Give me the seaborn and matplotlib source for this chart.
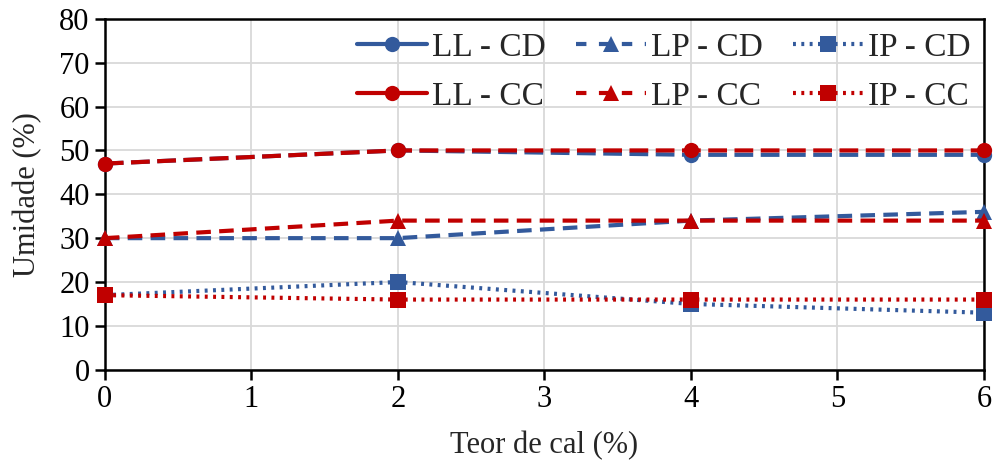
import matplotlib
matplotlib.use("Agg")
import matplotlib.pyplot as plt
import seaborn as sns
import pandas as pd
from matplotlib.lines import Line2D

teor = [0, 2, 4, 6]
ll_cd = [47, 50, 49, 49]
lp_cd = [30, 30, 34, 36]
ip_cd = [17, 20, 15, 13]
ll_cc = [47, 50, 50, 50]
lp_cc = [30, 34, 34, 34]
ip_cc = [17, 16, 16, 16]
labels = ["LL - CD", "LP - CD", "IP - CD", "LL - CC", "LP - CC", "IP - CC"]

sns.set_style("white")
plt.rcParams['font.family'] = ['Liberation Serif', 'DejaVu Serif']

blue = "#335a9c"
red = "#c00000"

fig = plt.figure(figsize=(9.98, 4.71), dpi=100)
ax = fig.add_axes([0.105, 0.215, 0.881, 0.745])

series = [
    (ll_cd, blue, (0, (4.5, 1.8)), "o", 11, 3),
    (lp_cd, blue, (0, (3.5, 2.0)), "^", 11, 3),
    (ip_cd, blue, (0, (0.7, 1.3)), "s", 11, 3),
    (ll_cc, red, (0, (4.5, 1.8)), "o", 11, 3),
    (lp_cc, red, (0, (3.5, 2.0)), "^", 11, 3),
    (ip_cc, red, (0, (0.7, 1.3)), "s", 11, 3),
]

for (vals, col, ls, mk, ms, lw), lab in zip(series, labels):
    df = pd.DataFrame({"x": teor, "y": vals})
    sns.lineplot(data=df, x="x", y="y", ax=ax, color=col, linestyle=ls,
                 linewidth=lw, marker=mk, markersize=ms, markeredgewidth=0,
                 legend=False, clip_on=False, zorder=3)

ax.set_xlim(0, 6)
ax.set_ylim(0, 80)
ax.set_xticks(range(0, 7))
ax.set_yticks(range(0, 81, 10))
ax.grid(True, color="#d9d9d9", linewidth=1.3)
ax.set_axisbelow(True)
for s in ax.spines.values():
    s.set_color("black")
    s.set_linewidth(1.8)
ax.tick_params(axis="both", which="both", direction="out", length=7, width=1.8,
               labelsize=22, colors="black", bottom=True, left=True, pad=4)
ax.set_xlabel("Teor de cal (%)", fontsize=22, labelpad=12)
ax.set_ylabel("Umidade (%)", fontsize=22, labelpad=12)

handles = []
leg_styles = [
    (blue, "-", "o"), (blue, (0, (2.5, 3)), "^"), (blue, (0, (0.7, 1.3)), "s"),
    (red, "-", "o"), (red, (0, (2.5, 3)), "^"), (red, (0, (0.7, 1.3)), "s"),
]
for (col, ls, mk), lab in zip(leg_styles, labels):
    handles.append(Line2D([0], [0], color=col, linestyle=ls, linewidth=3,
                          marker=mk, markersize=11, markeredgewidth=0, label=lab))
order = [0, 3, 1, 4, 2, 5]
leg = ax.legend([handles[i] for i in order], [labels[i] for i in order],
                ncol=3, loc="upper right", bbox_to_anchor=(1.0, 1.0),
                frameon=False, fontsize=24, handlelength=2.1,
                handletextpad=0.15, columnspacing=0.9, labelspacing=0.55,
                borderaxespad=0.0)

fig.savefig("out.png", dpi=100)
